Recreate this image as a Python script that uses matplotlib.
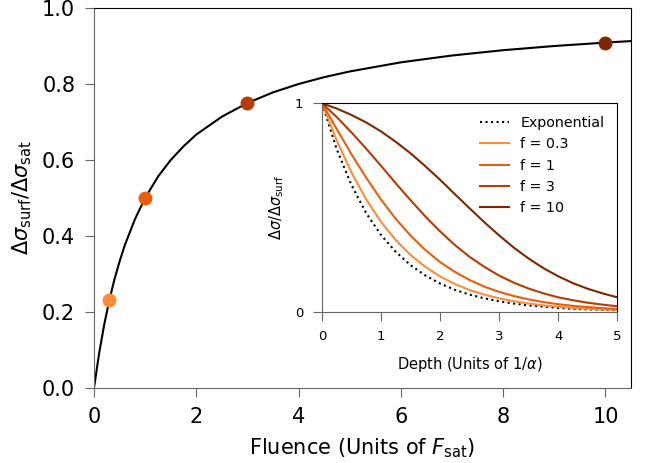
import numpy as np
import matplotlib.pyplot as plt

# main curve: surface response vs fluence
fluence = [0, 0.1, 0.2, 0.3, 0.4, 0.5, 0.6, 0.8, 1.0, 1.25, 1.5, 1.75, 2, 2.5,
           3, 3.5, 4, 4.5, 5, 6, 7, 8, 9, 10, 10.5]
surf = [0, 0.091, 0.167, 0.231, 0.286, 0.333, 0.375, 0.444, 0.5, 0.556, 0.6,
        0.636, 0.667, 0.714, 0.75, 0.778, 0.8, 0.818, 0.833, 0.857, 0.875,
        0.889, 0.9, 0.909, 0.913]

f_values = [0.3, 1, 3, 10]
f_points = [0.231, 0.5, 0.75, 0.909]

# inset: depth profiles
depth = [0, 0.25, 0.5, 0.75, 1.0, 1.25, 1.5, 1.75, 2.0, 2.25, 2.5, 2.75, 3.0,
         3.25, 3.5, 3.75, 4.0, 4.25, 4.5, 4.75, 5.0]
expo = [1, 0.779, 0.607, 0.472, 0.368, 0.287, 0.223, 0.174, 0.135, 0.105,
        0.082, 0.064, 0.050, 0.039, 0.030, 0.024, 0.018, 0.014, 0.011, 0.009,
        0.007]
prof_03 = [1, 0.821, 0.667, 0.538, 0.431, 0.343, 0.272, 0.215, 0.169, 0.133,
           0.104, 0.082, 0.064, 0.050, 0.039, 0.030, 0.024, 0.018, 0.014,
           0.011, 0.009]
prof_1 = [1, 0.876, 0.755, 0.642, 0.538, 0.445, 0.365, 0.296, 0.238, 0.191,
          0.152, 0.120, 0.095, 0.075, 0.059, 0.046, 0.036, 0.028, 0.022,
          0.017, 0.013]
prof_3 = [1, 0.934, 0.860, 0.782, 0.700, 0.616, 0.535, 0.457, 0.385, 0.320,
          0.263, 0.215, 0.173, 0.139, 0.111, 0.088, 0.069, 0.055, 0.043,
          0.034, 0.026]
prof_10 = [1, 0.975, 0.944, 0.908, 0.865, 0.815, 0.760, 0.698, 0.633, 0.564,
           0.496, 0.429, 0.366, 0.307, 0.255, 0.209, 0.170, 0.137, 0.110,
           0.088, 0.069]
profiles = [prof_03, prof_1, prof_3, prof_10]

colors = plt.cm.Oranges(np.linspace(0.5, 1.0, 4))

fig = plt.figure(figsize=(6.46, 4.63), dpi=100)
ax = fig.add_axes([0.1455, 0.162, 0.8313, 0.8207])
ax.plot(fluence, surf, color='black', lw=1.5, zorder=2)
for f, v, c in zip(f_values, f_points, colors):
    ax.plot(f, v, 'o', color=c, ms=9, zorder=3)
ax.set_xlim(0, 10.5)
ax.set_ylim(0, 1)
ax.set_xticks([0, 2, 4, 6, 8, 10])
ax.set_yticks([0, 0.2, 0.4, 0.6, 0.8, 1.0])
ax.set_yticklabels(['0.0', '0.2', '0.4', '0.6', '0.8', '1.0'])
ax.tick_params(labelsize=15, color='0.4', length=6.5, pad=7)
ax.set_xlabel(r'Fluence (Units of $F_{\rm sat}$)', fontsize=15, labelpad=7)
ax.set_ylabel(r'$\Delta\sigma_{\rm surf}/\Delta\sigma_{\rm sat}$', fontsize=15,
              labelpad=6)
for s in ['left', 'bottom']:
    ax.spines[s].set_color('0.4')

ins = fig.add_axes([0.4985, 0.3268, 0.457, 0.450])
ins.plot(depth, expo, color='black', ls=':', lw=1.5, label='Exponential')
for prof, f, c in zip(profiles, f_values, colors):
    ins.plot(depth, prof, color=c, lw=1.5, label=f'f = {f}')
ins.set_xlim(0, 5)
ins.set_ylim(0, 1)
ins.set_xticks([0, 1, 2, 3, 4, 5])
ins.set_yticks([0, 1])
ins.tick_params(labelsize=9.5, color='0.4', length=6.5, pad=7)
ins.set_xlabel(r'Depth (Units of $1/\alpha$)', fontsize=10.5, labelpad=8)
ins.set_ylabel(r'$\Delta\sigma/\Delta\sigma_{\rm surf}$', fontsize=10.5,
               labelpad=6)
for s in ['left', 'bottom']:
    ins.spines[s].set_color('0.4')
ins.legend(loc='upper right', frameon=False, fontsize=10.3)

fig.savefig('out.png', dpi=100)
